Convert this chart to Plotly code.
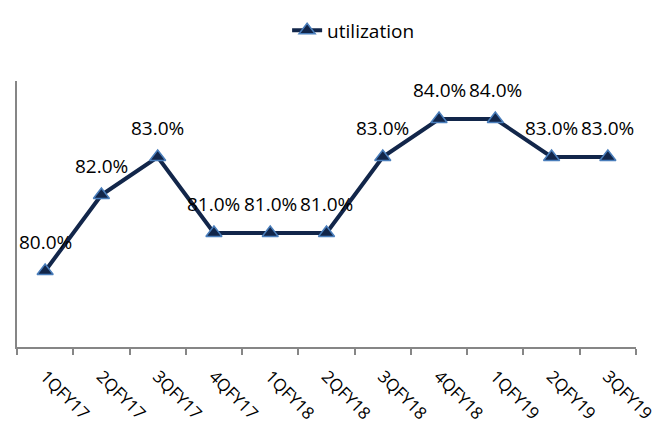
import plotly.graph_objects as go

categories = ["1QFY17", "2QFY17", "3QFY17", "4QFY17", "1QFY18", "2QFY18",
              "3QFY18", "4QFY18", "1QFY19", "2QFY19", "3QFY19"]
utilization = [80.0, 82.0, 83.0, 81.0, 81.0, 81.0, 83.0, 84.0, 84.0, 83.0, 83.0]
labels = [f"{v:.1f}%" for v in utilization]

FONT = "Open Sans"
LINE = "#12264A"
EDGE = "#4A7EBB"
AXIS = "#868686"

fig = go.Figure()
fig.add_trace(go.Scatter(
    x=categories, y=utilization, mode="lines+markers", name="utilization",
    line=dict(color=LINE, width=4),
    marker=dict(symbol="triangle-up", size=14, color=LINE,
                line=dict(color=EDGE, width=1.5)),
))
for c, v, t in zip(categories, utilization, labels):
    fig.add_annotation(x=c, y=v, text=t, showarrow=False, yshift=29,
                       font=dict(family=FONT, size=19, color="#000000"))

fig.update_layout(
    width=663, height=425,
    margin=dict(l=17, r=27, t=77, b=78),
    paper_bgcolor="white", plot_bgcolor="white",
    font=dict(family=FONT, size=19, color="#000000"),
    showlegend=True,
    legend=dict(orientation="h", x=0.543, y=1.19, xanchor="center", yanchor="middle",
                font=dict(family=FONT, size=19), itemwidth=30),
    xaxis=dict(type="category", range=[-0.5, len(categories) - 0.5],
               showline=True, linecolor=AXIS, linewidth=1.5,
               ticks="outside", ticklen=6, tickcolor=AXIS, tickwidth=1.5,
               tickson="boundaries", tickangle=45, showgrid=False, automargin=False,
               ticklabelstandoff=11, tickfont=dict(family=FONT, size=17)),
    yaxis=dict(range=[78, 85], showline=True, linecolor=AXIS, linewidth=1.5,
               showticklabels=False, ticks="", showgrid=False, zeroline=False,
               automargin=False),
)

fig.write_html("out.html")
